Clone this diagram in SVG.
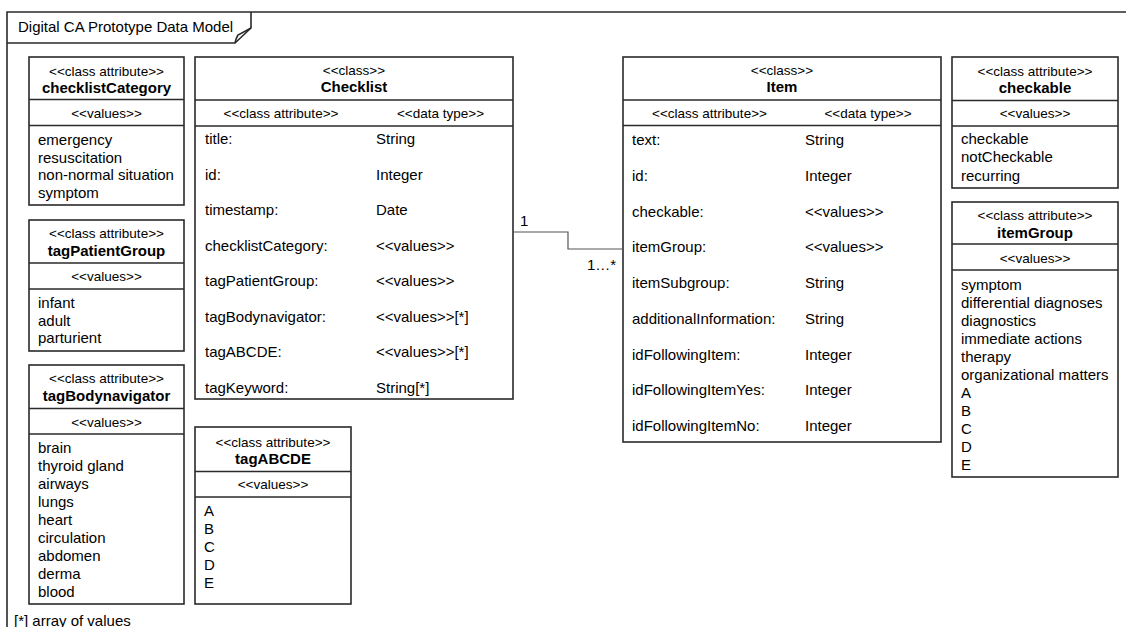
<svg xmlns="http://www.w3.org/2000/svg" width="1126" height="627" viewBox="0 0 1126 627">
<style>
.box{fill:#fff;stroke:#2a2a2a;stroke-width:1.6}
.sep{stroke:#2a2a2a;stroke-width:1.6;fill:none}
.t{font-family:"Liberation Sans",Arial,sans-serif;font-size:15px;fill:#000}
.s{font-size:13.5px}
.b{font-weight:bold}
.c{text-anchor:middle}
.conn{stroke:#555;stroke-width:1.2;fill:none}
</style>
<rect x="0" y="0" width="1126" height="627" fill="#fff"/>
<g id="frame">
<path class="sep" d="M7,627 L7,12 L1126,12"/>
<path class="sep" d="M7,43 L235,43 L251,28 L251,12"/>
<path class="sep" stroke-width="1.2" d="M251,28 L238,35 Q236,38 235,43"/>
<text class="t" x="18" y="32">Digital CA Prototype Data Model</text>
<text class="t" x="14" y="626">[*] array of values</text>
</g>

<g id="checklistCategory">
<rect class="box" x="29" y="57" width="155" height="148"/>
<line class="sep" x1="29" y1="99.5" x2="184" y2="99.5"/>
<line class="sep" x1="29" y1="125.5" x2="184" y2="125.5"/>
<text class="t s c" x="106.5" y="75.5">&lt;&lt;class attribute&gt;&gt;</text>
<text class="t b c" x="106.5" y="93">checklistCategory</text>
<text class="t s c" x="106.5" y="117.5">&lt;&lt;values&gt;&gt;</text>
<text class="t" x="38" y="145">emergency</text>
<text class="t" x="38" y="162.5">resuscitation</text>
<text class="t" x="38" y="180">non-normal situation</text>
<text class="t" x="38" y="197.5">symptom</text>
</g>

<g id="tagPatientGroup">
<rect class="box" x="29" y="220" width="155" height="131"/>
<line class="sep" x1="29" y1="263" x2="184" y2="263"/>
<line class="sep" x1="29" y1="289" x2="184" y2="289"/>
<text class="t s c" x="106.5" y="237.5">&lt;&lt;class attribute&gt;&gt;</text>
<text class="t b c" x="106.5" y="256">tagPatientGroup</text>
<text class="t s c" x="106.5" y="280.5">&lt;&lt;values&gt;&gt;</text>
<text class="t" x="38" y="308">infant</text>
<text class="t" x="38" y="325.5">adult</text>
<text class="t" x="38" y="343">parturient</text>
</g>

<g id="tagBodynavigator">
<rect class="box" x="29" y="365" width="155" height="239"/>
<line class="sep" x1="29" y1="408.5" x2="184" y2="408.5"/>
<line class="sep" x1="29" y1="434" x2="184" y2="434"/>
<text class="t s c" x="106.5" y="383">&lt;&lt;class attribute&gt;&gt;</text>
<text class="t b c" x="106.5" y="401">tagBodynavigator</text>
<text class="t s c" x="106.5" y="426.5">&lt;&lt;values&gt;&gt;</text>
<text class="t" x="38" y="453">brain</text>
<text class="t" x="38" y="471">thyroid gland</text>
<text class="t" x="38" y="489">airways</text>
<text class="t" x="38" y="507">lungs</text>
<text class="t" x="38" y="525">heart</text>
<text class="t" x="38" y="543">circulation</text>
<text class="t" x="38" y="561">abdomen</text>
<text class="t" x="38" y="579">derma</text>
<text class="t" x="38" y="597">blood</text>
</g>

<g id="tagABCDE">
<rect class="box" x="195" y="427" width="156" height="177"/>
<line class="sep" x1="195" y1="471.5" x2="351" y2="471.5"/>
<line class="sep" x1="195" y1="497" x2="351" y2="497"/>
<text class="t s c" x="273" y="446.5">&lt;&lt;class attribute&gt;&gt;</text>
<text class="t b c" x="273" y="464">tagABCDE</text>
<text class="t s c" x="273" y="488.5">&lt;&lt;values&gt;&gt;</text>
<text class="t" x="204" y="515.5">A</text>
<text class="t" x="204" y="533.5">B</text>
<text class="t" x="204" y="551.5">C</text>
<text class="t" x="204" y="569.5">D</text>
<text class="t" x="204" y="587.5">E</text>
</g>

<g id="Checklist">
<rect class="box" x="195" y="57" width="318" height="342"/>
<line class="sep" x1="195" y1="100" x2="513" y2="100"/>
<line class="sep" x1="195" y1="126" x2="513" y2="126"/>
<text class="t s c" x="354" y="75">&lt;&lt;class&gt;&gt;</text>
<text class="t b c" x="354" y="92">Checklist</text>
<text class="t s c" x="281" y="117.5">&lt;&lt;class attribute&gt;&gt;</text>
<text class="t s c" x="440.5" y="117.5">&lt;&lt;data type&gt;&gt;</text>
<text class="t" x="205" y="144">title:</text>
<text class="t" x="376" y="144">String</text>
<text class="t" x="205" y="179.5">id:</text>
<text class="t" x="376" y="179.5">Integer</text>
<text class="t" x="205" y="215">timestamp:</text>
<text class="t" x="376" y="215">Date</text>
<text class="t" x="205" y="250.5">checklistCategory:</text>
<text class="t" x="376" y="250.5">&lt;&lt;values&gt;&gt;</text>
<text class="t" x="205" y="286">tagPatientGroup:</text>
<text class="t" x="376" y="286">&lt;&lt;values&gt;&gt;</text>
<text class="t" x="205" y="321.5">tagBodynavigator:</text>
<text class="t" x="376" y="321.5">&lt;&lt;values&gt;&gt;[*]</text>
<text class="t" x="205" y="357">tagABCDE:</text>
<text class="t" x="376" y="357">&lt;&lt;values&gt;&gt;[*]</text>
<text class="t" x="205" y="392.5">tagKeyword:</text>
<text class="t" x="376" y="392.5">String[*]</text>
</g>

<g id="Item">
<rect class="box" x="623" y="57" width="318" height="385"/>
<line class="sep" x1="623" y1="100" x2="941" y2="100"/>
<line class="sep" x1="623" y1="125.5" x2="941" y2="125.5"/>
<text class="t s c" x="782" y="75">&lt;&lt;class&gt;&gt;</text>
<text class="t b c" x="782" y="92">Item</text>
<text class="t s c" x="709.5" y="117.5">&lt;&lt;class attribute&gt;&gt;</text>
<text class="t s c" x="868" y="117.5">&lt;&lt;data type&gt;&gt;</text>
<text class="t" x="632" y="145">text:</text>
<text class="t" x="805" y="145">String</text>
<text class="t" x="632" y="180.75">id:</text>
<text class="t" x="805" y="180.75">Integer</text>
<text class="t" x="632" y="216.5">checkable:</text>
<text class="t" x="805" y="216.5">&lt;&lt;values&gt;&gt;</text>
<text class="t" x="632" y="252.25">itemGroup:</text>
<text class="t" x="805" y="252.25">&lt;&lt;values&gt;&gt;</text>
<text class="t" x="632" y="288">itemSubgroup:</text>
<text class="t" x="805" y="288">String</text>
<text class="t" x="632" y="323.75">additionalInformation:</text>
<text class="t" x="805" y="323.75">String</text>
<text class="t" x="632" y="359.5">idFollowingItem:</text>
<text class="t" x="805" y="359.5">Integer</text>
<text class="t" x="632" y="395.25">idFollowingItemYes:</text>
<text class="t" x="805" y="395.25">Integer</text>
<text class="t" x="632" y="431">idFollowingItemNo:</text>
<text class="t" x="805" y="431">Integer</text>
</g>

<g id="checkable">
<rect class="box" x="952" y="57" width="166" height="131"/>
<line class="sep" x1="952" y1="100.5" x2="1118" y2="100.5"/>
<line class="sep" x1="952" y1="126" x2="1118" y2="126"/>
<text class="t s c" x="1035" y="76">&lt;&lt;class attribute&gt;&gt;</text>
<text class="t b c" x="1035" y="92.5">checkable</text>
<text class="t s c" x="1035" y="117.5">&lt;&lt;values&gt;&gt;</text>
<text class="t" x="961" y="144">checkable</text>
<text class="t" x="961" y="162">notCheckable</text>
<text class="t" x="961" y="180.5">recurring</text>
</g>

<g id="itemGroup">
<rect class="box" x="952" y="202" width="166" height="275"/>
<line class="sep" x1="952" y1="244" x2="1118" y2="244"/>
<line class="sep" x1="952" y1="270" x2="1118" y2="270"/>
<text class="t s c" x="1035" y="219.5">&lt;&lt;class attribute&gt;&gt;</text>
<text class="t b c" x="1035" y="238">itemGroup</text>
<text class="t s c" x="1035" y="262.5">&lt;&lt;values&gt;&gt;</text>
<text class="t" x="961" y="289.5">symptom</text>
<text class="t" x="961" y="307.5">differential diagnoses</text>
<text class="t" x="961" y="325.5">diagnostics</text>
<text class="t" x="961" y="343.5">immediate actions</text>
<text class="t" x="961" y="361.5">therapy</text>
<text class="t" x="961" y="379.5">organizational matters</text>
<text class="t" x="961" y="397.5">A</text>
<text class="t" x="961" y="415.5">B</text>
<text class="t" x="961" y="433.5">C</text>
<text class="t" x="961" y="451.5">D</text>
<text class="t" x="961" y="469.5">E</text>
</g>

<g id="connectors">
<path class="conn" d="M513,232 L568,232 L568,249 L623,249"/>
<text class="t" x="520" y="226">1</text>
<text class="t" x="587" y="270">1…*</text>
</g>
</svg>
